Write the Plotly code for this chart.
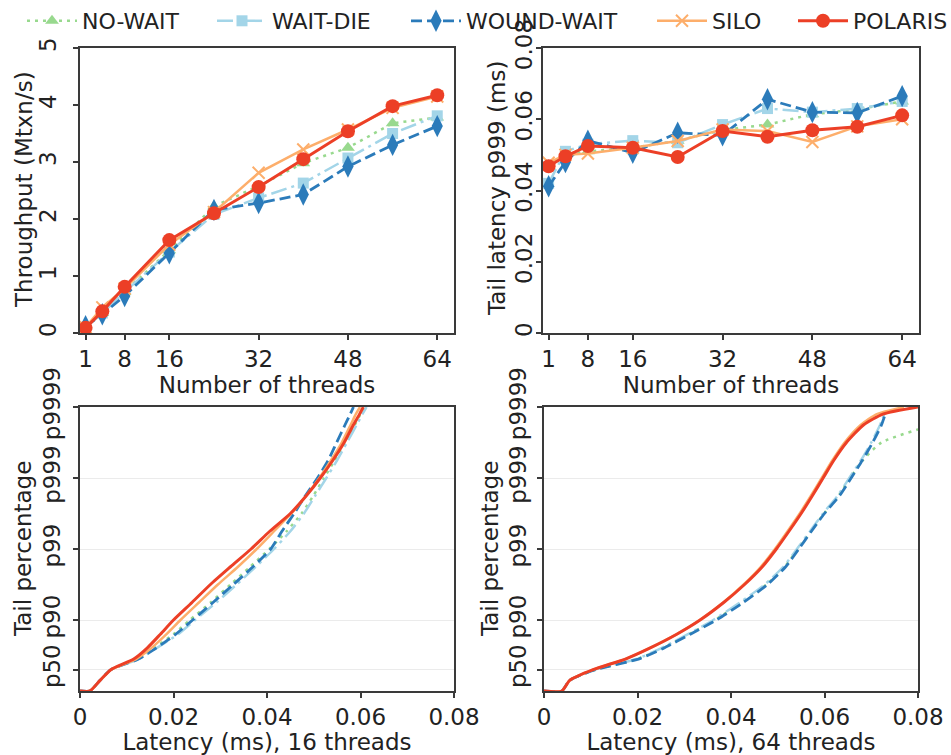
import math
import plotly.graph_objects as go

# ---------------- data ----------------
threads = [1, 4, 8, 16, 24, 32, 40, 48, 56, 64]
thread_ticks = [1, 8, 16, 32, 48, 64]
series_names = ["NO-WAIT", "WAIT-DIE", "WOUND-WAIT", "SILO", "POLARIS"]

# Throughput (Mtxn/s)
tput_nowait = [0.12, 0.35, 0.72, 1.45, 2.22, 2.58, 2.98, 3.25, 3.68, 3.78]
tput_waitdie = [0.10, 0.35, 0.72, 1.42, 2.08, 2.37, 2.63, 3.07, 3.50, 3.81]
tput_woundwait = [0.12, 0.33, 0.65, 1.40, 2.16, 2.28, 2.43, 2.92, 3.30, 3.63]
tput_silo = [0.10, 0.45, 0.78, 1.55, 2.12, 2.81, 3.22, 3.57, 3.95, 4.15]
tput_polaris = [0.09, 0.38, 0.81, 1.63, 2.10, 2.56, 3.05, 3.54, 3.98, 4.17]

# Tail latency p999 (ms)
p999_nowait = [0.0470, 0.0500, 0.0510, 0.0520, 0.0540, 0.0570, 0.0585, 0.0614, 0.0628, 0.0650]
p999_waitdie = [0.0420, 0.0510, 0.0530, 0.0540, 0.0534, 0.0585, 0.0630, 0.0620, 0.0630, 0.0650]
p999_woundwait = [0.0412, 0.0480, 0.0540, 0.0506, 0.0562, 0.0555, 0.0656, 0.0620, 0.0618, 0.0665]
p999_silo = [0.0478, 0.0500, 0.0504, 0.0520, 0.0539, 0.0571, 0.0567, 0.0536, 0.0580, 0.0600]
p999_polaris = [0.0468, 0.0496, 0.0525, 0.0520, 0.0494, 0.0567, 0.0551, 0.0569, 0.0579, 0.0611]

# Tail-latency curves: level in "nines" = -log10(1 - percentile)
tail_nines = [0, 0, 0.15, 0.3, 0.45, 0.6, 0.8, 1.0, 1.25, 1.5, 1.75, 2.0,
              2.25, 2.5, 2.75, 3.0, 3.25, 3.5, 3.75, 3.9, 4.0]
tail_tick_pcts = [50, 90, 99, 99.9, 99.99]
tail_tick_labels = ["p50", "p90", "p99", "p999", "p9999"]

# latency (ms) at each tail level, 16 threads
lat16_nowait = [0, 0.0021, 0.0043, 0.0066, 0.0122, 0.0157, 0.0200, 0.0235, 0.0280, 0.0322, 0.0364,
                0.0405, 0.0442, 0.0474, 0.0499, 0.0522, 0.0545, 0.0567, 0.0588, 0.0600, 0.0610]
lat16_waitdie = [0, 0.0021, 0.0043, 0.0066, 0.0125, 0.0163, 0.0210, 0.0246, 0.0292, 0.0335, 0.0376,
                 0.0415, 0.0450, 0.0479, 0.0503, 0.0527, 0.0550, 0.0571, 0.0592, 0.0604, 0.0613]
lat16_woundwait = [0, 0.0021, 0.0043, 0.0066, 0.0125, 0.0162, 0.0205, 0.0241, 0.0285, 0.0328, 0.0370,
                   0.0408, 0.0432, 0.0458, 0.0482, 0.0508, 0.0531, 0.0549, 0.0567, 0.0578, 0.0585]
lat16_silo = [0, 0.0021, 0.0043, 0.0066, 0.0120, 0.0152, 0.0185, 0.0215, 0.0255, 0.0295, 0.0338,
              0.0378, 0.0415, 0.0452, 0.0484, 0.0512, 0.0537, 0.0560, 0.0579, 0.0590, 0.0599]
lat16_polaris = [0, 0.0021, 0.0043, 0.0066, 0.0115, 0.0143, 0.0172, 0.0200, 0.0240, 0.0279, 0.0322,
                 0.0366, 0.0406, 0.0450, 0.0484, 0.0514, 0.0541, 0.0565, 0.0585, 0.0598, 0.0606]

# latency (ms) at each tail level, 64 threads
lat64_nowait = [0, 0.0038, 0.0055, 0.0110, 0.0200, 0.0252, 0.0310, 0.0365, 0.0424, 0.0476, 0.0515,
                0.0543, 0.0571, 0.0599, 0.0630, 0.0655, 0.0682, 0.0722, 0.0835, 0.0950, 0.1100]
lat64_waitdie = [0, 0.0038, 0.0055, 0.0108, 0.0198, 0.0250, 0.0308, 0.0362, 0.0420, 0.0472, 0.0512,
                 0.0541, 0.0569, 0.0597, 0.0628, 0.0653, 0.0678, 0.0700, 0.0719, 0.0728, None]
lat64_woundwait = [0, 0.0038, 0.0055, 0.0110, 0.0202, 0.0255, 0.0313, 0.0369, 0.0427, 0.0478, 0.0517,
                   0.0545, 0.0572, 0.0600, 0.0632, 0.0657, 0.0681, 0.0703, 0.0722, 0.0730, None]
lat64_silo = [0, 0.0038, 0.0055, 0.0105, 0.0174, 0.0225, 0.0284, 0.0333, 0.0384, 0.0427, 0.0464,
              0.0494, 0.0521, 0.0547, 0.0571, 0.0594, 0.0617, 0.0643, 0.0678, 0.0712, 0.0770]
lat64_polaris = [0, 0.0038, 0.0055, 0.0105, 0.0174, 0.0225, 0.0284, 0.0334, 0.0385, 0.0429, 0.0467,
                 0.0497, 0.0524, 0.0550, 0.0574, 0.0597, 0.0620, 0.0647, 0.0684, 0.0725, 0.0800]

lat_ticks = [0, 0.02, 0.04, 0.06, 0.08]
lat_tick_labels = ["0", "0.02", "0.04", "0.06", "0.08"]
tput_ticks = [0, 1, 2, 3, 4, 5]

# ---------------- styles ----------------
W, H = 951, 755
FONT = "DejaVu Sans"
TXT = "#222222"
AX = "#3a3a3a"
FS = 23
LFS = 22

styles = {
    "NO-WAIT": dict(color="#98d98e", dash="3px,5px", symbol="triangle-up", size=12, width=2.5),
    "WAIT-DIE": dict(color="#a3d5e8", dash="16px,5px,3px,5px", symbol="square", size=11, width=2.5),
    "WOUND-WAIT": dict(color="#2b7bba", dash="11px,5px", symbol="diamond-tall", size=16, width=2.8),
    "SILO": dict(color="#fdae6b", dash="solid", symbol="x-thin", size=12, width=2.5),
    "POLARIS": dict(color="#ec3f26", dash="solid", symbol="circle", size=14, width=3),
}

tput = dict(zip(series_names, [tput_nowait, tput_waitdie, tput_woundwait, tput_silo, tput_polaris]))
p999 = dict(zip(series_names, [p999_nowait, p999_waitdie, p999_woundwait, p999_silo, p999_polaris]))
lat16 = dict(zip(series_names, [lat16_nowait, lat16_waitdie, lat16_woundwait, lat16_silo, lat16_polaris]))
lat64 = dict(zip(series_names, [lat64_nowait, lat64_waitdie, lat64_woundwait, lat64_silo, lat64_polaris]))

legend_text_x = [82, 272, 466, 712, 853]
ITEMW = 50

fig = go.Figure()
for i, name in enumerate(series_names):
    st = styles[name]
    lg = "legend" if i == 0 else f"legend{i + 1}"
    marker = dict(symbol=st["symbol"], size=st["size"], color=st["color"],
                  line=dict(width=2 if st["symbol"] == "x-thin" else 0, color=st["color"]))
    line = dict(color=st["color"], width=st["width"], dash=st["dash"])
    fig.add_trace(go.Scatter(x=threads, y=tput[name], mode="lines+markers", name=name,
                             line=line, marker=marker, xaxis="x", yaxis="y",
                             legend=lg, showlegend=True))
    fig.add_trace(go.Scatter(x=threads, y=p999[name], mode="lines+markers", name=name,
                             line=line, marker=marker, xaxis="x2", yaxis="y2", showlegend=False))
    cline = dict(color=st["color"], width=st["width"], dash=st["dash"], shape="spline", smoothing=0.6)
    fig.add_trace(go.Scatter(x=lat16[name], y=tail_nines, mode="lines", name=name,
                             line=cline, xaxis="x3", yaxis="y3", showlegend=False))
    fig.add_trace(go.Scatter(x=lat64[name], y=tail_nines, mode="lines", name=name,
                             line=cline, xaxis="x4", yaxis="y4", showlegend=False))


def dx(a, b):
    return [a / W, b / W]


def dy(top, bottom):
    return [1 - bottom / H, 1 - top / H]


def axis(**kw):
    base = dict(showline=True, mirror=True, linecolor=AX, linewidth=1.6,
                ticks="outside", ticklen=5, tickwidth=1.6, tickcolor=AX,
                zeroline=False, showgrid=False, automargin=False,
                tickfont=dict(family=FONT, size=FS, color=TXT))
    base.update(kw)
    return base


def title(text, standoff):
    return dict(text=text, font=dict(family=FONT, size=FS, color=TXT), standoff=standoff)


tail_tick_vals = [-math.log10(1 - p / 100) for p in tail_tick_pcts]

layout = dict(
    width=W, height=H, margin=dict(l=0, r=0, t=0, b=0, autoexpand=False),
    paper_bgcolor="white", plot_bgcolor="white",
    font=dict(family=FONT, color=TXT),
    xaxis=axis(domain=dx(80, 454), anchor="y", range=[0, 67], tickvals=thread_ticks,
               title=title("Number of threads", 2)),
    yaxis=axis(domain=dy(48, 333), anchor="x", range=[0, 5], tickvals=tput_ticks, tickangle=-90,
               ticklabelstandoff=8),
    xaxis2=axis(domain=dx(543, 919), anchor="y2", range=[0, 67], tickvals=thread_ticks,
                title=title("Number of threads", 2)),
    yaxis2=axis(domain=dy(48, 333), anchor="x2", range=[0, 0.08], tickvals=lat_ticks,
                ticktext=lat_tick_labels, tickangle=-90, ticklabelstandoff=-5),
    xaxis3=axis(domain=dx(80, 454), anchor="y3", range=[0, 0.08], tickvals=lat_ticks,
                ticktext=lat_tick_labels, title=title("Latency (ms), 16 threads", 2)),
    yaxis3=axis(domain=dy(407, 691), anchor="x3", range=[0, 4], tickvals=tail_tick_vals,
                ticktext=tail_tick_labels, tickangle=-90, showgrid=True, gridcolor="#ebebeb",
                gridwidth=1, ticklabelstandoff=4),
    xaxis4=axis(domain=dx(544, 918), anchor="y4", range=[0, 0.08], tickvals=lat_ticks,
                ticktext=lat_tick_labels, title=title("Latency (ms), 64 threads", 2)),
    yaxis4=axis(domain=dy(407, 691), anchor="x4", range=[0, 4], tickvals=tail_tick_vals,
                ticktext=tail_tick_labels, tickangle=-90, showgrid=True, gridcolor="#ebebeb",
                gridwidth=1, ticklabelstandoff=2),
)

# y-axis titles (rotated), placed at the reference positions
ytitles = [("Throughput (Mtxn/s)", 24, 190), ("Tail latency p999 (ms)", 497, 189),
           ("Tail percentage", 23, 549), ("Tail percentage", 490, 549)]
layout["annotations"] = [
    dict(text=t, x=px / W, y=1 - py / H, xref="paper", yref="paper", textangle=-90,
         showarrow=False, xanchor="center", yanchor="middle",
         font=dict(family=FONT, size=FS, color=TXT))
    for t, px, py in ytitles
]

for i, tx in enumerate(legend_text_x):
    key = "legend" if i == 0 else f"legend{i + 1}"
    layout[key] = dict(x=(tx - ITEMW - 10) / W, xanchor="left", y=1, yanchor="top",
                       orientation="h", itemwidth=ITEMW, bgcolor="rgba(0,0,0,0)",
                       borderwidth=0, font=dict(family=FONT, size=LFS, color=TXT))

fig.update_layout(**layout)
fig.write_html("out.html", config={"displayModeBar": False},
               post_script="document.body.style.margin='0';document.body.style.overflow='hidden';")
